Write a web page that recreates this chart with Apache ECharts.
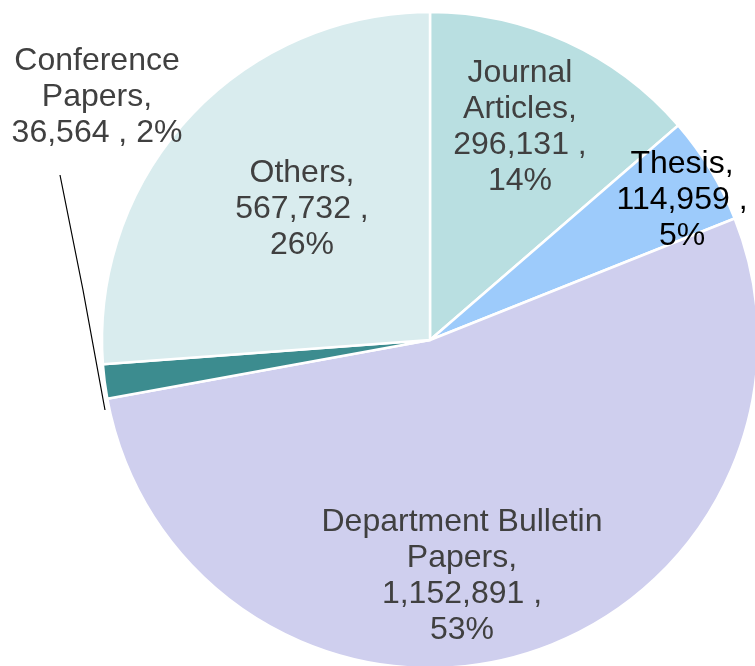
<!DOCTYPE html>
<html>
<head>
<meta charset="utf-8">
<script src="https://cdn.jsdelivr.net/npm/echarts@6/dist/echarts.min.js"></script>
<style>
  html, body { margin: 0; padding: 0; background: #fff; }
  #pie { width: 755px; height: 666px; }
</style>
</head>
<body>
<div id="pie"></div>
<script>
// 数据
var categories = ['Journal Articles', 'Thesis', 'Department Bulletin Papers', 'Conference Papers', 'Others'];
var labelNames = ['Journal\nArticles,', 'Thesis,', 'Department Bulletin\nPapers,', 'Conference\nPapers,', 'Others,'];
var counts = [296131, 114959, 1152891, 36564, 567732];
var colors = ['#b9dfe1', '#9dcbfb', '#cfcfee', '#3c8c8f', '#d9ecee'];

// label 位置 (像素)
var labelPos = [[520, 127], [682, 200], [462, 576], [97, 97], [302, 209]];

var total = counts.reduce(function (a, b) { return a + b; }, 0);

function fmt(n) {
    return n.toString().replace(/\B(?=(\d{3})+(?!\d))/g, ',');
}

var myChart = echarts.init(document.getElementById('pie'));

var option = {
    animation: false,
    series: [
        {
            type: 'pie',
            center: [430, 340],
            radius: 328,
            startAngle: 90,
            clockwise: true,
            avoidLabelOverlap: false,
            itemStyle: {
                borderColor: '#ffffff',
                borderWidth: 2.5
            },
            label: {
                show: true,
                position: 'outside',
                fontFamily: '"Liberation Sans", Arial, sans-serif',
                fontSize: 32,
                lineHeight: 36,
                color: '#404040',
                align: 'center',
                formatter: function (p) {
                    var i = p.dataIndex;
                    var pct = Math.round(counts[i] / total * 100);
                    if (i === 3) {
                        return labelNames[i] + '\n' + fmt(counts[i]) + ' , ' + pct + '%';
                    }
                    return labelNames[i] + '\n' + fmt(counts[i]) + ' ,\n' + pct + '%';
                }
            },
            labelLine: {
                show: false,
                lineStyle: { color: '#000000', width: 1.2 }
            },
            labelLayout: function (params) {
                var i = params.dataIndex;
                var res = {
                    x: labelPos[i][0],
                    y: labelPos[i][1],
                    align: 'center',
                    verticalAlign: 'middle'
                };
                if (i === 3) {
                    res.labelLinePoints = [[60, 175], [83, 290], [105, 410]];
                }
                return res;
            },
            data: categories.map(function (name, i) {
                var item = {
                    name: name,
                    value: counts[i],
                    itemStyle: { color: colors[i] }
                };
                if (i === 1) {
                    item.label = { color: '#000000' };
                }
                if (i === 3) {
                    item.labelLine = { show: true };
                }
                return item;
            })
        }
    ]
};

myChart.setOption(option);
</script>
</body>
</html>
